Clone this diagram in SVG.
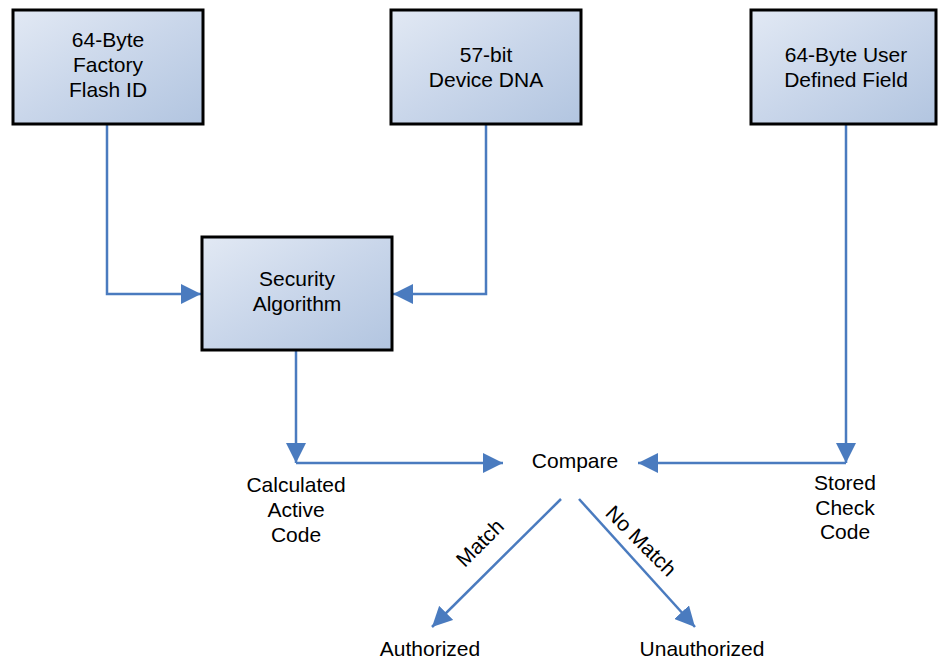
<svg xmlns="http://www.w3.org/2000/svg" width="938" height="660" viewBox="0 0 938 660">
<defs>
<linearGradient id="g" x1="0" y1="0" x2="1" y2="1">
<stop offset="0" stop-color="#e2e9f4"/>
<stop offset="0.5" stop-color="#c9d6ea"/>
<stop offset="1" stop-color="#b2c5e0"/>
</linearGradient>
<marker id="ah" markerWidth="20" markerHeight="20" viewBox="0 0 20 20" refX="20" refY="10" orient="auto" markerUnits="userSpaceOnUse">
<path d="M0,0 L20,10 L0,20 Z" fill="#4a7bbf"/>
</marker>
</defs>
<style>
.box{fill:url(#g);stroke:#000;stroke-width:3}
.t{font-family:"Liberation Sans",Arial,sans-serif;font-size:21px;fill:#000;text-anchor:middle}
.c{fill:none;stroke:#4a7bbf;stroke-width:2.5}
</style>
<rect width="938" height="660" fill="#fff"/>
<g id="connectors">
<path class="c" d="M107,124 V294 H201" marker-end="url(#ah)"/>
<path class="c" d="M486,124 V294 H393" marker-end="url(#ah)"/>
<path class="c" d="M296,350 V463" marker-end="url(#ah)"/>
<path class="c" d="M296,463 H503" marker-end="url(#ah)"/>
<path class="c" d="M846,124 V463" marker-end="url(#ah)"/>
<path class="c" d="M846,463 H638" marker-end="url(#ah)"/>
<path class="c" d="M561,499 L432,627" marker-end="url(#ah)"/>
<path class="c" d="M579,499 L695,627" marker-end="url(#ah)"/>
<text class="t" transform="translate(485,548) rotate(-45)">Match</text>
<text class="t" transform="translate(636,546) rotate(45)">No Match</text>
</g>
<g id="flashid">
<rect class="box" x="13" y="10" width="190" height="114"/>
<text class="t" x="108" y="47">64-Byte</text>
<text class="t" x="108" y="72">Factory</text>
<text class="t" x="108" y="97">Flash ID</text>
</g>
<g id="dna">
<rect class="box" x="391" y="10" width="190" height="114"/>
<text class="t" x="486" y="62">57-bit</text>
<text class="t" x="486" y="87">Device DNA</text>
</g>
<g id="userfield">
<rect class="box" x="751" y="10" width="185" height="114"/>
<text class="t" x="846" y="62">64-Byte User</text>
<text class="t" x="846" y="87">Defined Field</text>
</g>
<g id="algorithm">
<rect class="box" x="202" y="237" width="190" height="113"/>
<text class="t" x="297" y="286">Security</text>
<text class="t" x="297" y="311">Algorithm</text>
</g>
<g id="calculated">
<text class="t" x="296" y="492">Calculated</text>
<text class="t" x="296" y="517">Active</text>
<text class="t" x="296" y="542">Code</text>
</g>
<g id="compare">
<text class="t" x="575" y="468">Compare</text>
</g>
<g id="stored">
<text class="t" x="845" y="490">Stored</text>
<text class="t" x="845" y="515">Check</text>
<text class="t" x="845" y="539">Code</text>
</g>
<g id="authorized">
<text class="t" x="430" y="656">Authorized</text>
</g>
<g id="unauthorized">
<text class="t" x="702" y="656">Unauthorized</text>
</g>
</svg>
